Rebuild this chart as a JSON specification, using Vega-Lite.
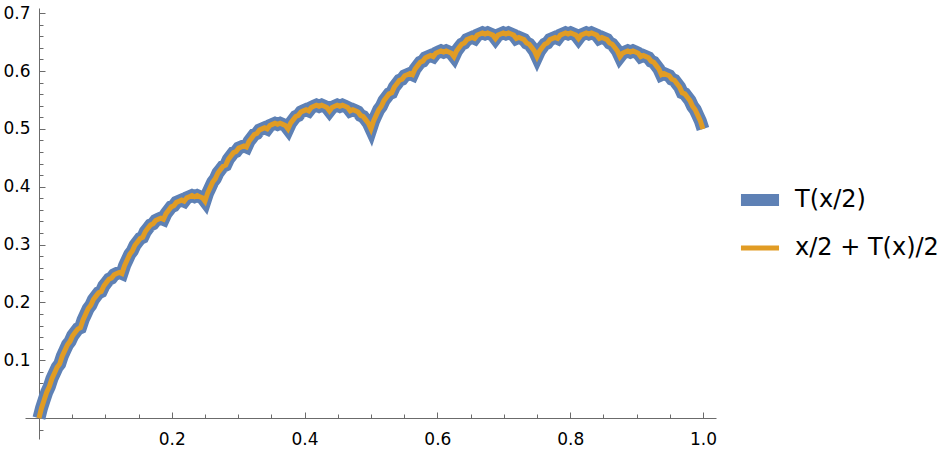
{
  "$schema": "https://vega.github.io/schema/vega-lite/v6.json",
  "width": 691,
  "height": 431,
  "autosize": "none",
  "padding": {"left": 25, "top": 8, "right": 230, "bottom": 11},
  "background": "white",
  "config": {"view": {"stroke": null}, "font": "DejaVu Sans"},
  "data": {"values": [
    {"x": 0, "y": 0},
    {"x": 0.0078125, "y": 0.03125},
    {"x": 0.015625, "y": 0.0546875},
    {"x": 0.0234375, "y": 0.078125},
    {"x": 0.03125, "y": 0.09375},
    {"x": 0.0390625, "y": 0.1171875},
    {"x": 0.046875, "y": 0.1328125},
    {"x": 0.0546875, "y": 0.1484375},
    {"x": 0.0625, "y": 0.15625},
    {"x": 0.0703125, "y": 0.1796875},
    {"x": 0.078125, "y": 0.1953125},
    {"x": 0.0859375, "y": 0.2109375},
    {"x": 0.09375, "y": 0.21875},
    {"x": 0.1015625, "y": 0.234375},
    {"x": 0.109375, "y": 0.2421875},
    {"x": 0.1171875, "y": 0.25},
    {"x": 0.125, "y": 0.25},
    {"x": 0.1328125, "y": 0.2734375},
    {"x": 0.140625, "y": 0.2890625},
    {"x": 0.1484375, "y": 0.3046875},
    {"x": 0.15625, "y": 0.3125},
    {"x": 0.1640625, "y": 0.328125},
    {"x": 0.171875, "y": 0.3359375},
    {"x": 0.1796875, "y": 0.34375},
    {"x": 0.1875, "y": 0.34375},
    {"x": 0.1953125, "y": 0.359375},
    {"x": 0.203125, "y": 0.3671875},
    {"x": 0.2109375, "y": 0.375},
    {"x": 0.21875, "y": 0.375},
    {"x": 0.2265625, "y": 0.3828125},
    {"x": 0.234375, "y": 0.3828125},
    {"x": 0.2421875, "y": 0.3828125},
    {"x": 0.25, "y": 0.375},
    {"x": 0.2578125, "y": 0.3984375},
    {"x": 0.265625, "y": 0.4140625},
    {"x": 0.2734375, "y": 0.4296875},
    {"x": 0.28125, "y": 0.4375},
    {"x": 0.2890625, "y": 0.453125},
    {"x": 0.296875, "y": 0.4609375},
    {"x": 0.3046875, "y": 0.46875},
    {"x": 0.3125, "y": 0.46875},
    {"x": 0.3203125, "y": 0.484375},
    {"x": 0.328125, "y": 0.4921875},
    {"x": 0.3359375, "y": 0.5},
    {"x": 0.34375, "y": 0.5},
    {"x": 0.3515625, "y": 0.5078125},
    {"x": 0.359375, "y": 0.5078125},
    {"x": 0.3671875, "y": 0.5078125},
    {"x": 0.375, "y": 0.5},
    {"x": 0.3828125, "y": 0.515625},
    {"x": 0.390625, "y": 0.5234375},
    {"x": 0.3984375, "y": 0.53125},
    {"x": 0.40625, "y": 0.53125},
    {"x": 0.4140625, "y": 0.5390625},
    {"x": 0.421875, "y": 0.5390625},
    {"x": 0.4296875, "y": 0.5390625},
    {"x": 0.4375, "y": 0.53125},
    {"x": 0.4453125, "y": 0.5390625},
    {"x": 0.453125, "y": 0.5390625},
    {"x": 0.4609375, "y": 0.5390625},
    {"x": 0.46875, "y": 0.53125},
    {"x": 0.4765625, "y": 0.53125},
    {"x": 0.484375, "y": 0.5234375},
    {"x": 0.4921875, "y": 0.515625},
    {"x": 0.5, "y": 0.5},
    {"x": 0.5078125, "y": 0.5234375},
    {"x": 0.515625, "y": 0.5390625},
    {"x": 0.5234375, "y": 0.5546875},
    {"x": 0.53125, "y": 0.5625},
    {"x": 0.5390625, "y": 0.578125},
    {"x": 0.546875, "y": 0.5859375},
    {"x": 0.5546875, "y": 0.59375},
    {"x": 0.5625, "y": 0.59375},
    {"x": 0.5703125, "y": 0.609375},
    {"x": 0.578125, "y": 0.6171875},
    {"x": 0.5859375, "y": 0.625},
    {"x": 0.59375, "y": 0.625},
    {"x": 0.6015625, "y": 0.6328125},
    {"x": 0.609375, "y": 0.6328125},
    {"x": 0.6171875, "y": 0.6328125},
    {"x": 0.625, "y": 0.625},
    {"x": 0.6328125, "y": 0.640625},
    {"x": 0.640625, "y": 0.6484375},
    {"x": 0.6484375, "y": 0.65625},
    {"x": 0.65625, "y": 0.65625},
    {"x": 0.6640625, "y": 0.6640625},
    {"x": 0.671875, "y": 0.6640625},
    {"x": 0.6796875, "y": 0.6640625},
    {"x": 0.6875, "y": 0.65625},
    {"x": 0.6953125, "y": 0.6640625},
    {"x": 0.703125, "y": 0.6640625},
    {"x": 0.7109375, "y": 0.6640625},
    {"x": 0.71875, "y": 0.65625},
    {"x": 0.7265625, "y": 0.65625},
    {"x": 0.734375, "y": 0.6484375},
    {"x": 0.7421875, "y": 0.640625},
    {"x": 0.75, "y": 0.625},
    {"x": 0.7578125, "y": 0.640625},
    {"x": 0.765625, "y": 0.6484375},
    {"x": 0.7734375, "y": 0.65625},
    {"x": 0.78125, "y": 0.65625},
    {"x": 0.7890625, "y": 0.6640625},
    {"x": 0.796875, "y": 0.6640625},
    {"x": 0.8046875, "y": 0.6640625},
    {"x": 0.8125, "y": 0.65625},
    {"x": 0.8203125, "y": 0.6640625},
    {"x": 0.828125, "y": 0.6640625},
    {"x": 0.8359375, "y": 0.6640625},
    {"x": 0.84375, "y": 0.65625},
    {"x": 0.8515625, "y": 0.65625},
    {"x": 0.859375, "y": 0.6484375},
    {"x": 0.8671875, "y": 0.640625},
    {"x": 0.875, "y": 0.625},
    {"x": 0.8828125, "y": 0.6328125},
    {"x": 0.890625, "y": 0.6328125},
    {"x": 0.8984375, "y": 0.6328125},
    {"x": 0.90625, "y": 0.625},
    {"x": 0.9140625, "y": 0.625},
    {"x": 0.921875, "y": 0.6171875},
    {"x": 0.9296875, "y": 0.609375},
    {"x": 0.9375, "y": 0.59375},
    {"x": 0.9453125, "y": 0.59375},
    {"x": 0.953125, "y": 0.5859375},
    {"x": 0.9609375, "y": 0.578125},
    {"x": 0.96875, "y": 0.5625},
    {"x": 0.9765625, "y": 0.5546875},
    {"x": 0.984375, "y": 0.5390625},
    {"x": 0.9921875, "y": 0.5234375},
    {"x": 1, "y": 0.5},
    {"x": 0.00390625, "y": 0.017578},
    {"x": 0.01171875, "y": 0.044922},
    {"x": 0.01953125, "y": 0.068359},
    {"x": 0.02734375, "y": 0.087891},
    {"x": 0.03515625, "y": 0.107422},
    {"x": 0.04296875, "y": 0.126953},
    {"x": 0.05078125, "y": 0.142578},
    {"x": 0.05859375, "y": 0.154297},
    {"x": 0.06640625, "y": 0.169922},
    {"x": 0.07421875, "y": 0.189453},
    {"x": 0.08203125, "y": 0.205078},
    {"x": 0.08984375, "y": 0.216797},
    {"x": 0.09765625, "y": 0.228516},
    {"x": 0.10546875, "y": 0.240234},
    {"x": 0.11328125, "y": 0.248047},
    {"x": 0.12109375, "y": 0.251953},
    {"x": 0.12890625, "y": 0.263672},
    {"x": 0.13671875, "y": 0.283203},
    {"x": 0.14453125, "y": 0.298828},
    {"x": 0.15234375, "y": 0.310547},
    {"x": 0.16015625, "y": 0.322266},
    {"x": 0.16796875, "y": 0.333984},
    {"x": 0.17578125, "y": 0.341797},
    {"x": 0.18359375, "y": 0.345703},
    {"x": 0.19140625, "y": 0.353516},
    {"x": 0.19921875, "y": 0.365234},
    {"x": 0.20703125, "y": 0.373047},
    {"x": 0.21484375, "y": 0.376953},
    {"x": 0.22265625, "y": 0.380859},
    {"x": 0.23046875, "y": 0.384766},
    {"x": 0.23828125, "y": 0.384766},
    {"x": 0.24609375, "y": 0.380859},
    {"x": 0.25390625, "y": 0.388672},
    {"x": 0.26171875, "y": 0.408203},
    {"x": 0.26953125, "y": 0.423828},
    {"x": 0.27734375, "y": 0.435547},
    {"x": 0.28515625, "y": 0.447266},
    {"x": 0.29296875, "y": 0.458984},
    {"x": 0.30078125, "y": 0.466797},
    {"x": 0.30859375, "y": 0.470703},
    {"x": 0.31640625, "y": 0.478516},
    {"x": 0.32421875, "y": 0.490234},
    {"x": 0.33203125, "y": 0.498047},
    {"x": 0.33984375, "y": 0.501953},
    {"x": 0.34765625, "y": 0.505859},
    {"x": 0.35546875, "y": 0.509766},
    {"x": 0.36328125, "y": 0.509766},
    {"x": 0.37109375, "y": 0.505859},
    {"x": 0.37890625, "y": 0.509766},
    {"x": 0.38671875, "y": 0.521484},
    {"x": 0.39453125, "y": 0.529297},
    {"x": 0.40234375, "y": 0.533203},
    {"x": 0.41015625, "y": 0.537109},
    {"x": 0.41796875, "y": 0.541016},
    {"x": 0.42578125, "y": 0.541016},
    {"x": 0.43359375, "y": 0.537109},
    {"x": 0.44140625, "y": 0.537109},
    {"x": 0.44921875, "y": 0.541016},
    {"x": 0.45703125, "y": 0.541016},
    {"x": 0.46484375, "y": 0.537109},
    {"x": 0.47265625, "y": 0.533203},
    {"x": 0.48046875, "y": 0.529297},
    {"x": 0.48828125, "y": 0.521484},
    {"x": 0.49609375, "y": 0.509766},
    {"x": 0.50390625, "y": 0.513672},
    {"x": 0.51171875, "y": 0.533203},
    {"x": 0.51953125, "y": 0.548828},
    {"x": 0.52734375, "y": 0.560547},
    {"x": 0.53515625, "y": 0.572266},
    {"x": 0.54296875, "y": 0.583984},
    {"x": 0.55078125, "y": 0.591797},
    {"x": 0.55859375, "y": 0.595703},
    {"x": 0.56640625, "y": 0.603516},
    {"x": 0.57421875, "y": 0.615234},
    {"x": 0.58203125, "y": 0.623047},
    {"x": 0.58984375, "y": 0.626953},
    {"x": 0.59765625, "y": 0.630859},
    {"x": 0.60546875, "y": 0.634766},
    {"x": 0.61328125, "y": 0.634766},
    {"x": 0.62109375, "y": 0.630859},
    {"x": 0.62890625, "y": 0.634766},
    {"x": 0.63671875, "y": 0.646484},
    {"x": 0.64453125, "y": 0.654297},
    {"x": 0.65234375, "y": 0.658203},
    {"x": 0.66015625, "y": 0.662109},
    {"x": 0.66796875, "y": 0.666016},
    {"x": 0.67578125, "y": 0.666016},
    {"x": 0.68359375, "y": 0.662109},
    {"x": 0.69140625, "y": 0.662109},
    {"x": 0.69921875, "y": 0.666016},
    {"x": 0.70703125, "y": 0.666016},
    {"x": 0.71484375, "y": 0.662109},
    {"x": 0.72265625, "y": 0.658203},
    {"x": 0.73046875, "y": 0.654297},
    {"x": 0.73828125, "y": 0.646484},
    {"x": 0.74609375, "y": 0.634766},
    {"x": 0.75390625, "y": 0.634766},
    {"x": 0.76171875, "y": 0.646484},
    {"x": 0.76953125, "y": 0.654297},
    {"x": 0.77734375, "y": 0.658203},
    {"x": 0.78515625, "y": 0.662109},
    {"x": 0.79296875, "y": 0.666016},
    {"x": 0.80078125, "y": 0.666016},
    {"x": 0.80859375, "y": 0.662109},
    {"x": 0.81640625, "y": 0.662109},
    {"x": 0.82421875, "y": 0.666016},
    {"x": 0.83203125, "y": 0.666016},
    {"x": 0.83984375, "y": 0.662109},
    {"x": 0.84765625, "y": 0.658203},
    {"x": 0.85546875, "y": 0.654297},
    {"x": 0.86328125, "y": 0.646484},
    {"x": 0.87109375, "y": 0.634766},
    {"x": 0.87890625, "y": 0.630859},
    {"x": 0.88671875, "y": 0.634766},
    {"x": 0.89453125, "y": 0.634766},
    {"x": 0.90234375, "y": 0.630859},
    {"x": 0.91015625, "y": 0.626953},
    {"x": 0.91796875, "y": 0.623047},
    {"x": 0.92578125, "y": 0.615234},
    {"x": 0.93359375, "y": 0.603516},
    {"x": 0.94140625, "y": 0.595703},
    {"x": 0.94921875, "y": 0.591797},
    {"x": 0.95703125, "y": 0.583984},
    {"x": 0.96484375, "y": 0.572266},
    {"x": 0.97265625, "y": 0.560547},
    {"x": 0.98046875, "y": 0.548828},
    {"x": 0.98828125, "y": 0.533203},
    {"x": 0.99609375, "y": 0.513672}
  ]},
  "layer": [
    {
      "mark": {"type": "line", "strokeJoin": "miter", "strokeCap": "butt", "strokeWidth": 13},
      "encoding": {
        "x": {
          "field": "x", "type": "quantitative",
          "scale": {"domain": [-0.021, 1.0196], "nice": false, "zero": false},
          "axis": {
            "orient": "bottom", "offset": -21, "title": null, "grid": false,
            "values": [0.2, 0.4, 0.6, 0.8, 1.0], "format": ".1f",
            "tickSize": -6, "labelPadding": 19, "tickColor": "#6b6b6b", "domainColor": "#6b6b6b",
            "labelFontSize": 17, "labelFont": "DejaVu Sans", "labelColor": "#000000",
            "labelFlush": false, "labelOverlap": false
          }
        },
        "y": {
          "field": "y", "type": "quantitative",
          "scale": {"domain": [-0.036, 0.709], "nice": false, "zero": false},
          "axis": {
            "orient": "left", "offset": -14, "title": null, "grid": false,
            "values": [0.1, 0.2, 0.3, 0.4, 0.5, 0.6, 0.7], "format": ".1f",
            "tickSize": -6, "labelPadding": 15, "tickColor": "#6b6b6b", "domainColor": "#6b6b6b",
            "labelFontSize": 17, "labelFont": "DejaVu Sans", "labelColor": "#000000",
            "labelFlush": false, "labelOverlap": false
          }
        },
        "color": {
          "datum": "T(x/2)",
          "scale": {"domain": ["T(x/2)", "x/2 + T(x)/2"], "range": ["#5E81B5", "#E19C24"]},
          "legend": {
            "title": null, "orient": "none", "legendX": 723, "legendY": 180, "padding": 0,
            "symbolType": "stroke", "symbolSize": 1450, "labelFontSize": 24, "labelFont": "DejaVu Sans",
            "labelColor": "#000000", "labelOffset": 23, "rowPadding": 12, "labelLimit": 300,
            "symbolStrokeWidth": 5,
            "encode": {"symbols": {"update": {"strokeWidth": {"signal": "datum.value === 'T(x/2)' ? 12 : 5"}}}}
          }
        }
      }
    },
    {
      "mark": {"type": "line", "strokeJoin": "miter", "strokeCap": "butt", "strokeWidth": 5},
      "encoding": {
        "x": {
          "field": "x", "type": "quantitative",
          "scale": {"domain": [-0.021, 1.0196], "nice": false, "zero": false},
          "axis": {
            "orient": "bottom", "offset": -21, "title": null, "grid": false, "domain": false, "labels": false,
            "values": [0.05, 0.1, 0.15, 0.25, 0.3, 0.35, 0.45, 0.5, 0.55, 0.65, 0.7, 0.75, 0.85, 0.9, 0.95],
            "tickSize": -4, "tickColor": "#6b6b6b"
          }
        },
        "y": {
          "field": "y", "type": "quantitative",
          "scale": {"domain": [-0.036, 0.709], "nice": false, "zero": false},
          "axis": {
            "orient": "left", "offset": -14, "title": null, "grid": false, "domain": false, "labels": false,
            "values": [-0.02, 0.02, 0.04, 0.06, 0.08, 0.12, 0.14, 0.16, 0.18, 0.22, 0.24, 0.26, 0.28, 0.32, 0.34, 0.36, 0.38, 0.42, 0.44, 0.46, 0.48, 0.52, 0.54, 0.56, 0.58, 0.62, 0.64, 0.66, 0.68],
            "tickSize": -4, "tickColor": "#6b6b6b"
          }
        },
        "color": {"datum": "x/2 + T(x)/2"}
      }
    }
  ],
  "resolve": {"axis": {"x": "independent", "y": "independent"}}
}
